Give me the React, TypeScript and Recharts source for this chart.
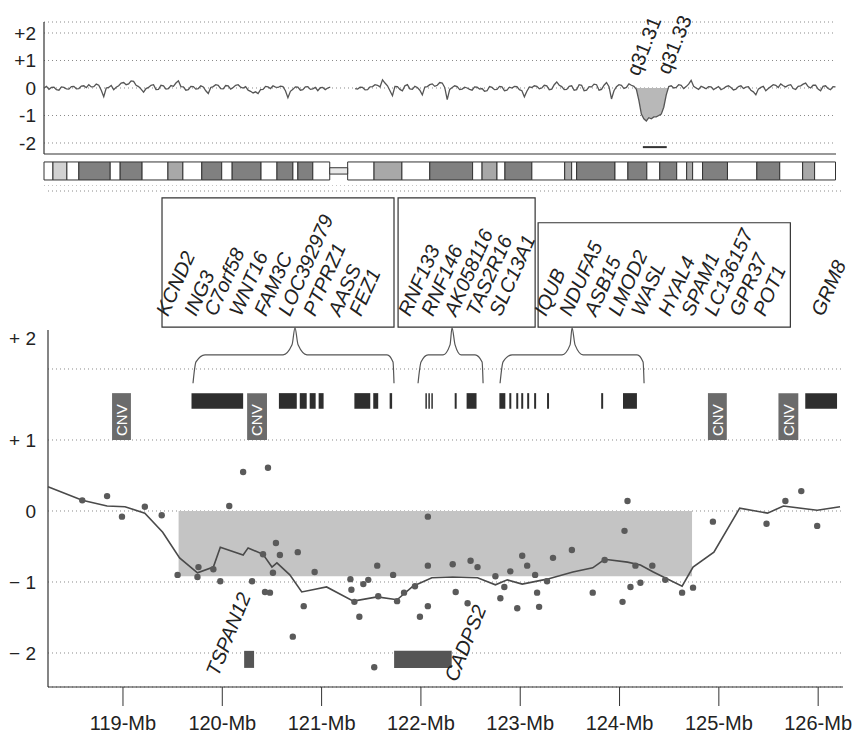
import React from 'react';
import {
  ComposedChart, Line, Area, Scatter, XAxis, YAxis, CartesianGrid,
  ReferenceArea, ReferenceLine,
} from 'recharts';

const FONT = '"Liberation Sans", Arial, Helvetica, sans-serif';

// ---------------- top panel: whole chromosome 7 log ratio (0.5 Mb steps) ----------------
const TOP_STEP_MB = 0.5;
const TOP_LOG: (number | null)[] = [
  0.00, 0.06, -0.05, 0.02, 0.03, -0.06, -0.08, 0.04, 0.02, -0.03,
  -0.04, 0.05, 0.06, -0.03, -0.02, 0.07, 0.08, 0.01, 0.12, 0.04,
  0.05, 0.14, 0.10, -0.08, -0.32, 0.00, 0.02, 0.09, -0.06, 0.03,
  0.08, 0.18, 0.20, 0.12, 0.15, 0.26, 0.24, 0.10, 0.05, -0.04,
  -0.15, -0.02, 0.02, 0.10, 0.12, -0.06, -0.05, 0.10, 0.08, -0.04,
  -0.02, 0.09, 0.06, 0.18, 0.26, 0.05, 0.04, -0.08, -0.06, 0.06,
  0.05, -0.04, -0.02, 0.08, 0.04, -0.10, -0.20, 0.02, 0.05, 0.12,
  0.10, -0.02, -0.03, 0.09, 0.08, -0.04, 0.02, 0.10, 0.12, 0.03,
  0.00, 0.05, -0.08, -0.12, -0.18, -0.14, -0.20, -0.06, -0.05, 0.06,
  0.04, -0.02, 0.08, 0.03, 0.02, 0.07, 0.05, -0.10, -0.35, -0.12,
  -0.05, 0.04, 0.03, -0.08, -0.06, 0.04, 0.05, -0.05, -0.03, 0.02,
  -0.10, 0.01, 0.02, -0.06, 0.00, 0.03, null, null, null, null,
  null, null, null, null, null, -0.02, -0.04, 0.03, 0.02, -0.07,
  -0.06, 0.04, 0.05, 0.12, 0.10, 0.04, 0.30, 0.18, 0.08, -0.10,
  -0.28, 0.06, 0.05, -0.05, -0.10, 0.08, 0.12, -0.03, -0.05, 0.06,
  0.02, -0.08, -0.25, 0.03, 0.05, 0.12, 0.15, 0.06, 0.10, 0.20,
  0.18, 0.02, -0.42, -0.05, 0.02, 0.08, 0.05, -0.06, -0.04, 0.03,
  0.00, -0.05, -0.08, 0.04, 0.03, -0.04, -0.02, -0.12, -0.10, 0.05,
  0.02, -0.06, -0.05, 0.06, 0.04, -0.10, -0.08, 0.03, 0.00, 0.06,
  0.05, -0.06, -0.10, -0.32, -0.12, 0.04, 0.02, 0.08, 0.06, -0.03,
  0.00, 0.10, 0.08, -0.06, -0.04, 0.12, 0.22, 0.10, 0.05, -0.06,
  -0.05, 0.06, 0.08, -0.08, -0.06, 0.12, 0.10, -0.10, -0.08, 0.05,
  0.04, 0.14, 0.12, -0.08, -0.05, 0.10, 0.20, 0.05, -0.40, -0.10,
  0.05, 0.12, 0.10, -0.02, 0.02, 0.15, 0.10, 0.06, -0.05, -0.45,
  -0.95, -1.12, -1.20, -1.08, -1.12, -1.05, -1.05, -1.00, -0.95, -0.70,
  -0.25, 0.05, 0.08, 0.00, 0.02, 0.12, 0.10, -0.02, 0.05, 0.14,
  0.28, 0.06, 0.00, -0.05, 0.06, 0.02, -0.03, 0.05, 0.04, -0.06,
  0.00, 0.05, -0.06, -0.02, 0.05, 0.08, 0.02, -0.07, -0.04, 0.05,
  0.08, -0.02, 0.03, 0.05, -0.08, -0.14, -0.25, -0.04, 0.02, 0.06,
  -0.10, -0.02, 0.05, 0.12, 0.10, 0.02, 0.15, 0.08, 0.04, 0.10,
  0.12, -0.02, -0.05, 0.06, 0.08, 0.14, 0.18, 0.05, 0.00, 0.10,
  0.10, -0.04, -0.10, 0.06, 0.08, -0.02, -0.06, 0.05, 0.04,
];
const DELETION_RANGE = [119, 125.5];
const DELETION_CALL = [120.3, 125.1];
const CHROM_LENGTH = 159.1;

// ideogram bands: [start Mb, end Mb, shade 0 white .. 3 dark]
const IDEO_BANDS: number[][] = [
  [0, 1.8, 0], [1.8, 4.6, 1], [4.6, 7.0, 0], [7.0, 13.3, 3], [13.3, 15.3, 0],
  [15.3, 19.7, 3], [19.7, 24.9, 0], [24.9, 27.9, 2], [27.9, 31.7, 0], [31.7, 35.7, 3],
  [35.7, 37.8, 0], [37.8, 43.6, 3], [43.6, 46.8, 0], [46.8, 50.0, 3], [50.0, 51.0, 0],
  [51.0, 54.0, 3], [54.0, 57.4, 0],
  [61.0, 66.3, 0], [66.3, 71.9, 2], [71.9, 77.5, 0], [77.5, 86.1, 3], [86.1, 88.0, 0],
  [88.0, 91.0, 2], [91.0, 92.6, 0], [92.6, 98.0, 3], [98.0, 104.6, 0], [104.6, 106.0, 2],
  [106.0, 107.0, 0], [107.0, 114.7, 3], [114.7, 117.3, 0], [117.3, 121.1, 3], [121.1, 123.7, 0],
  [123.7, 127.1, 3], [127.1, 129.1, 0], [129.1, 130.3, 2], [130.3, 132.3, 0], [132.3, 137.3, 3],
  [137.3, 143.2, 0], [143.2, 147.8, 3], [147.8, 152.4, 0], [152.4, 154.8, 2], [154.8, 159.0, 0],
];
const CENTROMERE = [57.4, 61.0];
const SHADES = ['#ffffff', '#d2d2d2', '#a8a8a8', '#808080'];

const CYTO_LABELS = ['q31.31', 'q31.33'];
const CYTO_POS = [119.5, 125.6];
const CYTO_Y = [0.4, 0.45];

// ---------------- bottom panel: 118-126 Mb zoom ----------------
const MB_TICKS = [119, 120, 121, 122, 123, 124, 125, 126];

const SMOOTH_X = [
  118.245, 118.59, 118.84, 119.02, 119.22, 119.40, 119.57, 119.75, 119.91, 119.98,
  120.21, 120.26, 120.41, 120.50, 120.55, 120.68, 120.80, 120.91, 121.05, 121.32,
  121.56, 121.76, 121.92, 122.11, 122.32, 122.57, 122.75, 122.87, 123.02, 123.27,
  123.53, 123.73, 123.85, 124.08, 124.21, 124.34, 124.63, 124.74, 124.95, 125.21,
  125.49, 125.65, 125.99, 126.22,
];
const SMOOTH_Y = [
  0.34, 0.15, 0.07, 0.06, -0.03, -0.30, -0.66, -0.87, -0.79, -0.51,
  -0.62, -0.52, -0.61, -0.79, -0.73, -0.90, -1.14, -1.11, -1.07, -1.27,
  -1.21, -1.25, -1.06, -0.94, -0.93, -0.94, -1.04, -0.97, -1.03, -0.96,
  -0.86, -0.80, -0.68, -0.72, -0.76, -0.86, -1.06, -0.79, -0.58, 0.04,
  -0.03, 0.07, 0.01, 0.06,
];

const PROBE_X = [
  118.59, 118.84, 118.99, 119.22, 119.39, 120.07, 120.21, 120.46, 119.55, 119.75,
  119.76, 119.91, 119.98, 120.30, 120.41, 120.54, 120.58, 120.51, 120.76, 120.43,
  120.48, 120.82, 120.71, 120.93, 121.29, 121.30, 121.42, 121.47, 121.38, 121.56,
  121.57, 121.72, 121.76, 121.53, 121.33, 122.07, 122.07, 122.32, 122.50, 122.57,
  122.75, 122.90, 123.02, 123.07, 123.15, 123.27, 123.33, 123.52, 121.94, 121.83,
  122.07, 121.99, 122.35, 122.47, 122.80, 122.97, 123.19, 123.17, 122.84, 123.73,
  123.85, 124.03, 124.11, 124.21, 124.16, 124.33, 124.46, 124.63, 124.74, 124.05,
  124.08, 124.94, 125.48, 125.67, 125.83, 125.99,
];
const PROBE_Y = [
  0.15, 0.21, -0.08, 0.06, -0.06, 0.07, 0.55, 0.61, -0.90, -0.93,
  -0.79, -0.82, -0.99, -0.99, -0.61, -0.45, -0.62, -0.87, -0.58, -1.14,
  -1.15, -1.34, -1.77, -0.86, -0.96, -1.11, -1.03, -0.97, -1.49, -0.77,
  -1.20, -0.90, -1.27, -2.20, -1.28, -0.08, -0.77, -0.75, -0.70, -0.79,
  -0.92, -0.85, -0.63, -0.77, -0.90, -0.99, -0.66, -0.55, -1.06, -1.15,
  -1.34, -1.49, -1.14, -1.30, -1.23, -1.37, -1.35, -1.15, -1.07, -1.15,
  -0.69, -1.28, -1.07, -1.01, -0.77, -0.77, -0.97, -1.15, -1.08, -0.28,
  0.14, -0.15, -0.18, 0.14, 0.28, -0.21,
];

const LOSS_REGION = { x1: 119.56, x2: 124.73, y1: -0.92, y2: 0 };

// gene bars [start, end] Mb
const GENE_BARS: number[][] = [
  [119.69, 120.21], [120.57, 120.75], [120.78, 120.85], [120.88, 120.94], [120.97, 121.02],
  [121.33, 121.49], [121.52, 121.57], [121.685, 121.71], [122.045, 122.06], [122.075, 122.09],
  [122.105, 122.12], [122.34, 122.36], [122.46, 122.56], [122.79, 122.85], [122.89, 122.91],
  [122.96, 122.98], [123.01, 123.03], [123.07, 123.09], [123.14, 123.16], [123.27, 123.29],
  [123.815, 123.835], [124.035, 124.175], [125.87, 126.19],
];
const CNV_BARS: number[][] = [[118.89, 119.08], [120.25, 120.45], [124.89, 125.08], [125.60, 125.80]];
const TRACK_BAR_Y = [1.44, 1.66];
const TRACK_CNV_Y = [1.0, 1.66];

const GENE_BOXES: number[][] = [
  [119.393, 121.729, 2.59, 4.41],
  [121.77, 123.15, 2.59, 4.41],
  [123.18, 125.72, 2.59, 4.06],
];

const BRACE_1 = [
  [119.705, 1.80], [119.735, 2.10], [119.826, 2.20], [120.612, 2.20], [120.702, 2.34],
  [120.732, 2.58], [120.763, 2.34], [120.853, 2.20], [121.659, 2.20], [121.719, 2.10], [121.729, 1.80],
];
const BRACE_2 = [
  [121.971, 1.80], [122.001, 2.10], [122.072, 2.20], [122.223, 2.20], [122.293, 2.34],
  [122.313, 2.58], [122.344, 2.34], [122.404, 2.20], [122.545, 2.20], [122.616, 2.10], [122.626, 1.80],
];
const BRACE_3 = [
  [122.797, 1.80], [122.827, 2.10], [122.918, 2.20], [123.421, 2.20], [123.502, 2.34],
  [123.522, 2.58], [123.552, 2.34], [123.633, 2.20], [124.177, 2.20], [124.237, 2.10], [124.247, 1.80],
];

const GENE_NAMES = [
  'KCND2', 'ING3', 'C7orf58', 'WNT16', 'FAM3C', 'LOC392979', 'PTPRZ1', 'AASS', 'FEZ1',
  'RNF133', 'RNF146', 'AK058116', 'TAS2R16', 'SLC13A1',
  'IQUB', 'NDUFA5', 'ASB15', 'LMOD2', 'WASL', 'HYAL4', 'SPAM1', 'LC136157', 'GPR37', 'POT1',
  'GRM8',
];
const GENE_NAME_X = [
  119.453, 119.735, 119.937, 120.188, 120.440, 120.682, 120.934, 121.185, 121.397,
  121.890, 122.122, 122.354, 122.575, 122.807,
  123.260, 123.512, 123.764, 124.005, 124.237, 124.509, 124.740, 124.972, 125.224, 125.466,
  126.050,
];
const GENE_NAME_Y = 2.73;

const FOCAL_GENES = ['TSPAN12', 'CADPS2'];
const FOCAL_BARS: number[][] = [[120.22, 120.32], [121.73, 122.31]];
const FOCAL_BAR_Y = [-2.21, -1.97];
const FOCAL_LABEL_X = [119.96, 122.36];
const FOCAL_LABEL_Y = [-2.34, -2.42];

// ---------------- derived tables ----------------
const topData = TOP_LOG.map((y, i) => ({ x: i * TOP_STEP_MB, y }));
const delData = topData.filter((d) => d.x >= DELETION_RANGE[0] && d.x <= DELETION_RANGE[1]);
const cytoData = CYTO_LABELS.map((name, i) => ({ x: CYTO_POS[i], y: CYTO_Y[i], name }));
const smoothData = SMOOTH_X.map((x, i) => ({ x, y: SMOOTH_Y[i] }));
const probeData = PROBE_X.map((x, i) => ({ x, y: PROBE_Y[i] }));
const toPts = (arr: number[][]) => arr.map(([x, y]) => ({ x, y }));
const geneLabelData = GENE_NAMES.map((name, i) => ({ x: GENE_NAME_X[i], y: GENE_NAME_Y, name }));
const focalLabelData = FOCAL_GENES.map((name, i) => ({ x: FOCAL_LABEL_X[i], y: FOCAL_LABEL_Y[i], name }));

const TOP_DOMAIN_Y: [number, number] = [-3.564, 2.4];
const BOT_X: [number, number] = [118.245, 126.25];
const BOT_Y: [number, number] = [-2.479, 4.507];

const TopYTick = (p: any) => {
  const v = p.payload.value;
  const label = v > 0 ? `+${v}` : `${v}`;
  return (
    <text x={p.x} y={p.y} dy="0.36em" textAnchor="end" fontSize={19} fontFamily={FONT} fill="#222">
      {label}
    </text>
  );
};

const BottomYTick = (p: any) => {
  const v = p.payload.value;
  const label = v > 0 ? `+ ${v}` : v < 0 ? `\u2212 ${-v}` : '0';
  const shift = v === 2 ? -31 : 0;
  return (
    <text x={p.x} y={p.y + shift} dy="0.36em" textAnchor="end" fontSize={19} fontFamily={FONT} fill="#222">
      {label}
    </text>
  );
};

const RotText = (rot: number, size: number, italic: boolean) => (p: any) => {
  const { cx, cy, payload } = p;
  if (cx == null || cy == null) return null;
  return (
    <text
      x={cx}
      y={cy}
      transform={`rotate(${rot} ${cx} ${cy})`}
      fontSize={size}
      fontStyle={italic ? 'italic' : 'normal'}
      fontFamily={FONT}
      fill="#222"
    >
      {payload.name}
    </text>
  );
};

const Dot = (p: any) => {
  if (p.cx == null) return null;
  return <circle cx={p.cx} cy={p.cy} r={3.2} fill="#5a5a5a" />;
};

const CnvLabel = (p: any) => {
  const vb = p.viewBox || {};
  const cx = vb.x + vb.width / 2;
  const cy = vb.y + vb.height - 4;
  return (
    <text
      x={cx}
      y={cy}
      transform={`rotate(-90 ${cx} ${cy})`}
      dy="0.36em"
      fontSize={15}
      fontFamily={FONT}
      fill="#ffffff"
    >
      CNV
    </text>
  );
};

export default function App() {
  return (
    <div style={{ position: 'absolute', left: 0, top: 0, width: 861, height: 735, background: '#fff' }}>
      <div style={{ position: 'absolute', left: 0, top: 0 }}>
        <ComposedChart width={861} height={186} margin={{ top: 22, right: 25, bottom: 0, left: 0 }}>
          <CartesianGrid vertical={false} stroke="#8a8a8a" strokeDasharray="1 3" />
          <XAxis type="number" dataKey="x" domain={[0, CHROM_LENGTH]} hide />
          <YAxis
            type="number"
            dataKey="y"
            domain={TOP_DOMAIN_Y}
            ticks={[-2, -1, 0, 1, 2]}
            width={44}
            axisLine={false}
            tickLine={false}
            tickSize={0}
            tickMargin={8}
            tick={(p: any) => <TopYTick {...p} />}
          />
          <ReferenceLine segment={[{ x: 0, y: -2.4 }, { x: 0, y: 2.4 }]} stroke="#333" strokeWidth={1.2} />
          <ReferenceLine segment={[{ x: 0, y: -2.4 }, { x: CHROM_LENGTH, y: -2.4 }]} stroke="#333" strokeWidth={1.2} />
          {IDEO_BANDS.map((b, i) => (
            <ReferenceArea key={`b${i}`} x1={b[0]} x2={b[1]} y1={-3.345} y2={-2.69}
              fill={SHADES[b[2]]} fillOpacity={1} stroke="#333" strokeWidth={1} />
          ))}
          <ReferenceArea x1={CENTROMERE[0]} x2={CENTROMERE[1]} y1={-3.13} y2={-2.9}
            fill="#e8e8e8" fillOpacity={1} stroke="#333" strokeWidth={1} />
          <Area data={delData} type="linear" dataKey="y" baseValue={0} stroke="none"
            fill="#b8b8b8" fillOpacity={1} isAnimationActive={false} />
          <Line data={topData} type="linear" dataKey="y" stroke="#555" strokeWidth={1.3}
            dot={false} connectNulls={false} isAnimationActive={false} />
          <ReferenceLine segment={[{ x: DELETION_CALL[0], y: -2.15 }, { x: DELETION_CALL[1], y: -2.15 }]}
            stroke="#333" strokeWidth={2} />
          <Scatter data={cytoData} dataKey="y" shape={RotText(-68, 20, false)} isAnimationActive={false} />
        </ComposedChart>
      </div>

      <div style={{ position: 'absolute', left: 0, top: 186 }}>
        <ComposedChart width={861} height={549} margin={{ top: 5, right: 18, bottom: 0, left: 0 }}>
          <CartesianGrid vertical={false} stroke="#8a8a8a" strokeDasharray="1 3" />
          <XAxis
            type="number"
            dataKey="x"
            domain={BOT_X}
            ticks={MB_TICKS}
            tickFormatter={(v: number) => `${v}-Mb`}
            height={48}
            tickSize={19}
            tickMargin={10}
            axisLine={{ stroke: '#333', strokeWidth: 1.2 }}
            tickLine={{ stroke: '#333' }}
            tick={{ fontSize: 20, fill: '#222', fontFamily: FONT }}
          />
          <YAxis
            type="number"
            dataKey="y"
            domain={BOT_Y}
            ticks={[-2, -1, 0, 1, 2]}
            width={48}
            axisLine={false}
            tickLine={false}
            tickSize={0}
            tickMargin={12}
            tick={(p: any) => <BottomYTick {...p} />}
          />
          <ReferenceLine segment={[{ x: BOT_X[0], y: BOT_Y[0] }, { x: BOT_X[0], y: 2.55 }]} stroke="#333" strokeWidth={1.2} />
          <ReferenceArea x1={LOSS_REGION.x1} x2={LOSS_REGION.x2} y1={LOSS_REGION.y1} y2={LOSS_REGION.y2}
            fill="#c4c4c4" fillOpacity={1} stroke="none" />
          {GENE_BARS.map((b, i) => (
            <ReferenceArea key={`g${i}`} x1={b[0]} x2={b[1]} y1={TRACK_BAR_Y[0]} y2={TRACK_BAR_Y[1]}
              fill="#2e2e2e" fillOpacity={1} stroke="none" />
          ))}
          {CNV_BARS.map((b, i) => (
            <ReferenceArea key={`c${i}`} x1={b[0]} x2={b[1]} y1={TRACK_CNV_Y[0]} y2={TRACK_CNV_Y[1]}
              fill="#6b6b6b" fillOpacity={1} stroke="none" label={(p: any) => <CnvLabel {...p} />} />
          ))}
          {FOCAL_BARS.map((b, i) => (
            <ReferenceArea key={`f${i}`} x1={b[0]} x2={b[1]} y1={FOCAL_BAR_Y[0]} y2={FOCAL_BAR_Y[1]}
              fill="#555" fillOpacity={1} stroke="none" />
          ))}
          {GENE_BOXES.map((b, i) => (
            <ReferenceArea key={`x${i}`} x1={b[0]} x2={b[1]} y1={b[2]} y2={b[3]}
              fill="none" stroke="#333" strokeWidth={1.2} />
          ))}
          <Line data={toPts(BRACE_1)} type="monotone" dataKey="y" stroke="#555" strokeWidth={1.2} dot={false} isAnimationActive={false} />
          <Line data={toPts(BRACE_2)} type="monotone" dataKey="y" stroke="#555" strokeWidth={1.2} dot={false} isAnimationActive={false} />
          <Line data={toPts(BRACE_3)} type="monotone" dataKey="y" stroke="#555" strokeWidth={1.2} dot={false} isAnimationActive={false} />
          <Line data={smoothData} type="linear" dataKey="y" stroke="#4a4a4a" strokeWidth={1.6} dot={false} isAnimationActive={false} />
          <Scatter data={probeData} dataKey="y" shape={(p: any) => <Dot {...p} />} isAnimationActive={false} />
          <Scatter data={geneLabelData} dataKey="y" shape={RotText(-66, 20, true)} isAnimationActive={false} />
          <Scatter data={focalLabelData} dataKey="y" shape={RotText(-68, 20, true)} isAnimationActive={false} />
        </ComposedChart>
      </div>
    </div>
  );
}
